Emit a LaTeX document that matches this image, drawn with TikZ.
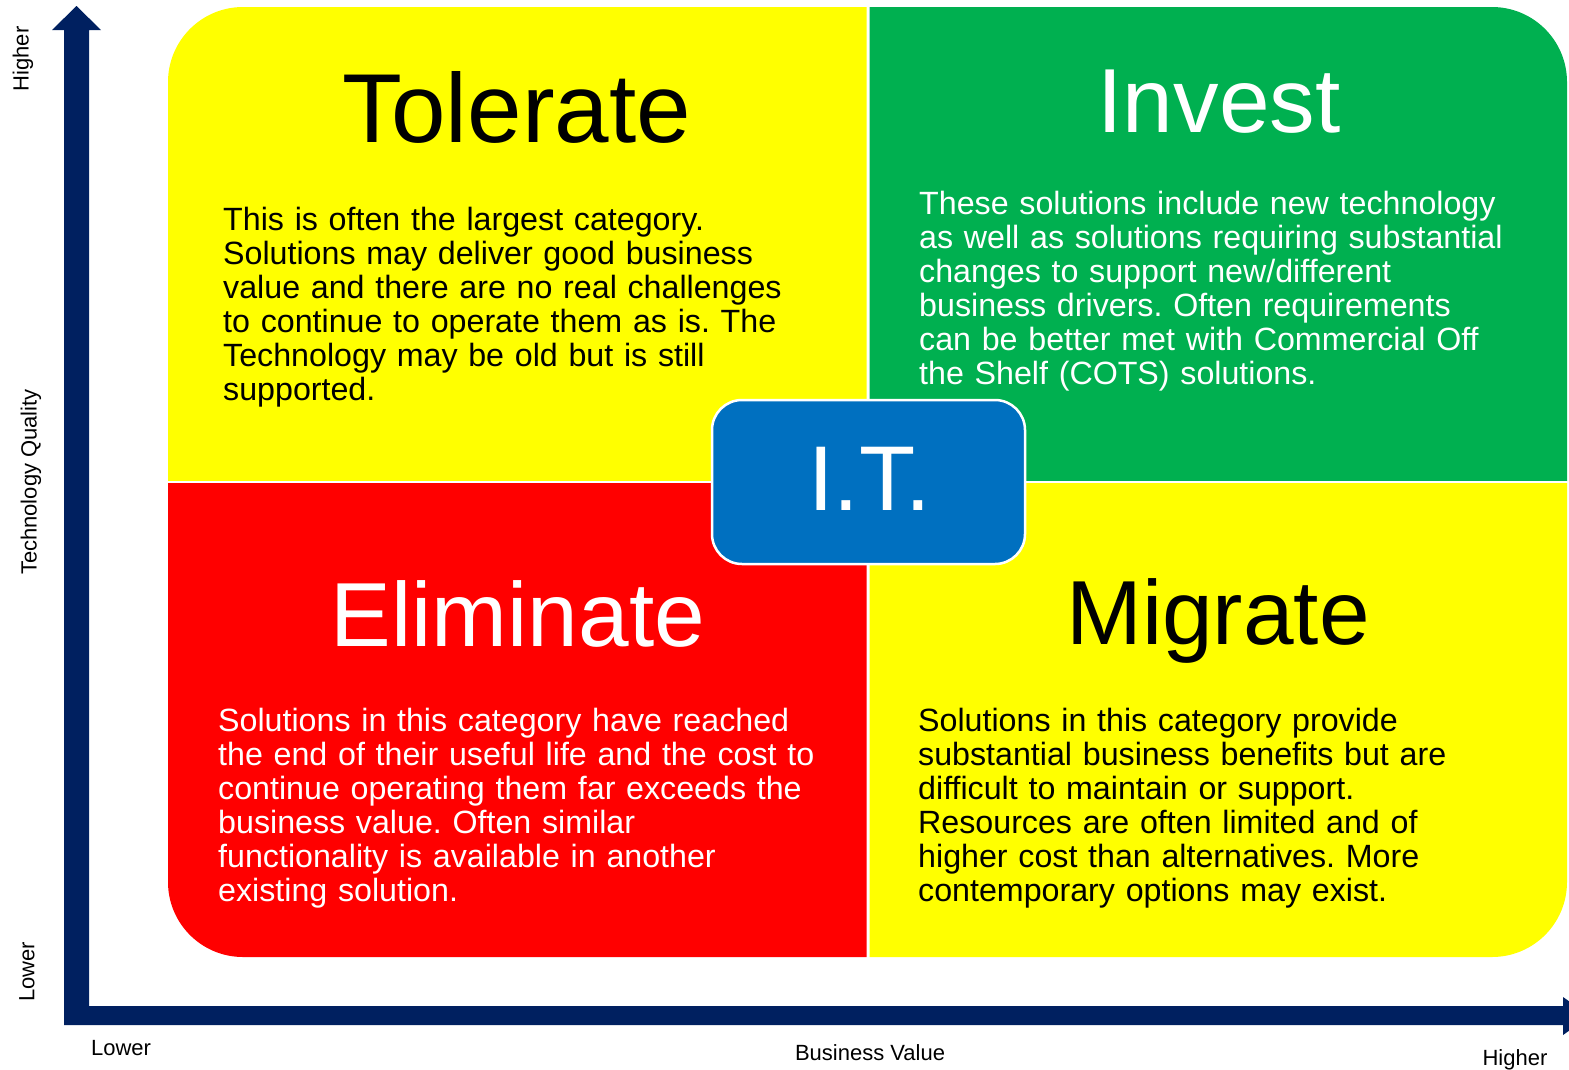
\documentclass[tikz,border=0pt]{standalone}
\usepackage{fontspec}
\setmainfont{Liberation Sans}
\definecolor{navy}{HTML}{002060}
\definecolor{qyellow}{HTML}{FFFF00}
\definecolor{qgreen}{HTML}{00B050}
\definecolor{qred}{HTML}{FF0000}
\definecolor{itblue}{HTML}{0070C0}
\begin{document}
\frenchspacing
\begin{tikzpicture}[x=1pt,y=-1pt,
  title/.style={anchor=base, inner sep=0pt, font=\fontsize{91}{95}\selectfont},
  body/.style={anchor=base west, inner sep=0pt, text width=700pt, align=left, font=\fontsize{32.2}{34}\selectfont},
  axislabel/.style={inner sep=0pt, font=\fontsize{22}{25}\selectfont}]
\useasboundingbox (0,0) rectangle (1569,1069);
\clip (0,0) rectangle (1569,1069);
% quadrants: one big rounded rectangle clipped into four parts
\begin{scope}
  \clip (160,0) rectangle (866.5,480.5);
  \fill[qyellow, rounded corners=75pt] (168,7) rectangle (1567,957);
\end{scope}
\begin{scope}
  \clip (869.5,0) rectangle (1569,480.5);
  \fill[qgreen, rounded corners=75pt] (168,7) rectangle (1567,957);
\end{scope}
\begin{scope}
  \clip (160,483.5) rectangle (866.5,1000);
  \fill[qred, rounded corners=75pt] (168,7) rectangle (1567,957);
\end{scope}
\begin{scope}
  \clip (869.5,483.5) rectangle (1569,1000);
  \fill[qyellow, rounded corners=75pt] (168,7) rectangle (1567,957);
\end{scope}
% axes
\fill[navy] (64,1025) -- (64,30) -- (52,30) -- (76.5,6) -- (101,30) -- (89,30)
  -- (89,1006) -- (1563,1006) -- (1563,997) -- (1590,1016) -- (1563,1035) -- (1563,1025) -- cycle;
% titles
\node[title, font=\fontsize{98}{100}\selectfont] (tol) at (516.5,142) {Tolerate};
\node[title, text=white] (inv) at (1219,132) {Invest};
\node[title, text=white] (eli) at (518,646) {Eliminate};
\node[title] (mig) at (1218,644) {Migrate};
% bodies
\node[body] (tolb) at (223,230) {This is often the largest category.\\Solutions may deliver good business\\value and there are no real challenges\\to continue to operate them as is. The\\Technology may be old but is still\\supported.};
\node[body, text=white] (invb) at (919,214) {These solutions include new technology\\as well as solutions requiring substantial\\changes to support new/different\\business drivers. Often requirements\\can be better met with Commercial Off\\the Shelf (COTS) solutions.};
\node[body, text=white] (elib) at (218,731) {Solutions in this category have reached\\the end of their useful life and the cost to\\continue operating them far exceeds the\\business value. Often similar\\functionality is available in another\\existing solution.};
\node[body] (migb) at (918,731) {Solutions in this category provide\\substantial business benefits but are\\difficult to maintain or support.\\Resources are often limited and of\\higher cost than alternatives. More\\contemporary options may exist.};
% centre box
\node[draw=white, line width=2.5pt, fill=itblue, rounded corners=30pt, minimum width=313pt, minimum height=164pt, inner sep=0pt] (itbox) at (868.5,482) {};
\node[title, text=white, font=\fontsize{92}{96}\selectfont] (it) at (869.5,510) {I.T.};
% axis labels
\node[axislabel, rotate=90] (yhi) at (23,59) {Higher};
\node[axislabel, rotate=90] (yq) at (31,482) {Technology Quality};
\node[axislabel, rotate=90] (ylo) at (27,972) {Lower};
\node[axislabel, anchor=base] (xlo) at (121,1055) {Lower};
\node[axislabel, anchor=base] (xbv) at (870,1060) {Business Value};
\node[axislabel, anchor=base] (xhi) at (1515,1065) {Higher};
\end{tikzpicture}
\end{document}
